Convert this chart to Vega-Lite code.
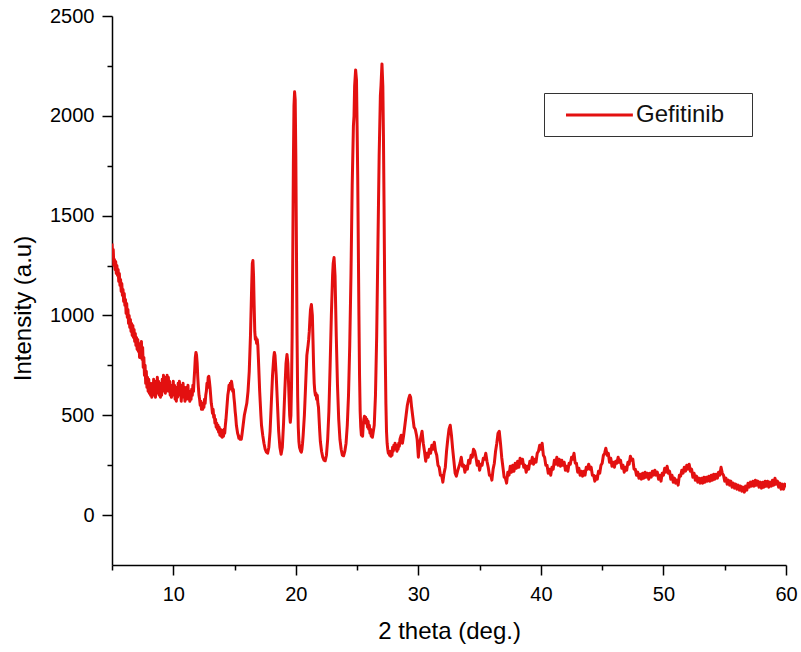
{
  "$schema": "https://vega.github.io/schema/vega-lite/v6.json",
  "width": 674,
  "height": 549,
  "autosize": "none",
  "padding": {"left": 112, "top": 16, "right": 15, "bottom": 87},
  "background": "white",
  "config": {
    "view": {"stroke": null},
    "font": "Liberation Sans",
    "axis": {"domainColor": "#000", "domainWidth": 1.5, "tickColor": "#000", "tickWidth": 1.5, "grid": false, "labelFont": "Liberation Sans", "labelFontSize": 20, "labelColor": "#000", "titleFont": "Liberation Sans", "titleFontSize": 24, "titleFontWeight": "normal", "titleColor": "#000"}
  },
  "data": {"values": [
{"t":5.00,"i":1360},{"t":5.05,"i":1300},{"t":5.10,"i":1330},{"t":5.15,"i":1250},{"t":5.20,"i":1280},{"t":5.25,"i":1230},{"t":5.30,"i":1270},{"t":5.35,"i":1210},{"t":5.40,"i":1250},{"t":5.45,"i":1200},{"t":5.50,"i":1230},{"t":5.55,"i":1170},{"t":5.60,"i":1210},{"t":5.65,"i":1150},{"t":5.70,"i":1180},{"t":5.75,"i":1120},{"t":5.80,"i":1160},{"t":5.85,"i":1100},{"t":5.90,"i":1130},{"t":5.95,"i":1070},{"t":6.00,"i":1110},{"t":6.05,"i":1050},{"t":6.10,"i":1080},{"t":6.15,"i":1010},{"t":6.20,"i":1060},{"t":6.25,"i":990},{"t":6.30,"i":1030},{"t":6.35,"i":960},{"t":6.40,"i":1000},{"t":6.45,"i":940},{"t":6.50,"i":980},{"t":6.55,"i":920},{"t":6.60,"i":960},{"t":6.65,"i":900},{"t":6.70,"i":950},{"t":6.75,"i":890},{"t":6.80,"i":930},{"t":6.85,"i":870},{"t":6.90,"i":910},{"t":6.95,"i":850},{"t":7.00,"i":890},{"t":7.05,"i":830},{"t":7.10,"i":880},{"t":7.15,"i":820},{"t":7.20,"i":860},{"t":7.25,"i":790},{"t":7.30,"i":850},{"t":7.35,"i":800},{"t":7.40,"i":870},{"t":7.45,"i":780},{"t":7.50,"i":840},{"t":7.55,"i":740},{"t":7.60,"i":790},{"t":7.65,"i":700},{"t":7.70,"i":750},{"t":7.75,"i":660},{"t":7.80,"i":720},{"t":7.85,"i":640},{"t":7.90,"i":690},{"t":7.95,"i":620},{"t":8.00,"i":680},{"t":8.05,"i":610},{"t":8.10,"i":660},
{"t":8.15,"i":600},{"t":8.20,"i":650},{"t":8.25,"i":590},{"t":8.30,"i":660},{"t":8.35,"i":610},{"t":8.40,"i":680},{"t":8.45,"i":600},{"t":8.50,"i":650},{"t":8.55,"i":590},{"t":8.60,"i":670},{"t":8.65,"i":610},{"t":8.70,"i":690},{"t":8.75,"i":620},{"t":8.80,"i":670},{"t":8.85,"i":600},{"t":8.90,"i":660},{"t":8.95,"i":590},{"t":9.00,"i":640},{"t":9.05,"i":600},{"t":9.10,"i":680},{"t":9.15,"i":620},{"t":9.20,"i":700},{"t":9.25,"i":630},{"t":9.30,"i":690},{"t":9.35,"i":610},{"t":9.40,"i":670},{"t":9.45,"i":620},{"t":9.50,"i":700},{"t":9.55,"i":640},{"t":9.60,"i":690},{"t":9.65,"i":620},{"t":9.70,"i":670},{"t":9.75,"i":600},{"t":9.80,"i":650},{"t":9.85,"i":590},{"t":9.90,"i":640},{"t":9.95,"i":610},{"t":10.00,"i":670},{"t":10.05,"i":600},{"t":10.10,"i":650},{"t":10.15,"i":580},{"t":10.20,"i":630},{"t":10.25,"i":570},{"t":10.30,"i":640},{"t":10.35,"i":590},{"t":10.40,"i":660},{"t":10.45,"i":600},{"t":10.50,"i":670},{"t":10.55,"i":610},{"t":10.60,"i":650},{"t":10.65,"i":570},{"t":10.70,"i":620},{"t":10.75,"i":590},{"t":10.80,"i":660},{"t":10.85,"i":600},{"t":10.90,"i":640},{"t":10.95,"i":570},{"t":11.00,"i":620},{"t":11.05,"i":580},{"t":11.10,"i":640},{"t":11.15,"i":590},{"t":11.20,"i":650},{"t":11.25,"i":580},{"t":11.30,"i":620},{"t":11.35,"i":570},{"t":11.40,"i":610},{"t":11.45,"i":580},{"t":11.50,"i":630},{"t":11.55,"i":600},{"t":11.60,"i":650},{"t":11.65,"i":620},
{"t":11.70,"i":680},{"t":11.75,"i":730},{"t":11.80,"i":790},{"t":11.85,"i":815},{"t":11.90,"i":800},{"t":11.95,"i":760},{"t":12.00,"i":690},{"t":12.05,"i":640},{"t":12.10,"i":600},{"t":12.15,"i":580},{"t":12.20,"i":550},{"t":12.25,"i":570},{"t":12.30,"i":530},{"t":12.35,"i":550},{"t":12.40,"i":530},{"t":12.45,"i":560},{"t":12.50,"i":540},{"t":12.55,"i":580},{"t":12.60,"i":560},{"t":12.65,"i":600},{"t":12.70,"i":620},{"t":12.75,"i":660},{"t":12.80,"i":640},{"t":12.85,"i":690},{"t":12.90,"i":695},{"t":12.95,"i":670},{"t":13.00,"i":640},{"t":13.05,"i":600},{"t":13.10,"i":560},{"t":13.15,"i":540},{"t":13.20,"i":510},{"t":13.25,"i":530},{"t":13.30,"i":490},{"t":13.35,"i":500},{"t":13.40,"i":460},{"t":13.45,"i":480},{"t":13.50,"i":440},{"t":13.55,"i":460},{"t":13.60,"i":430},{"t":13.65,"i":450},{"t":13.70,"i":415},{"t":13.75,"i":440},{"t":13.80,"i":400},{"t":13.85,"i":430},{"t":13.90,"i":395},{"t":13.95,"i":420},{"t":14.00,"i":390},{"t":14.05,"i":425},{"t":14.10,"i":395},{"t":14.15,"i":430},{"t":14.20,"i":410},{"t":14.25,"i":450},{"t":14.30,"i":480},{"t":14.35,"i":520},{"t":14.40,"i":560},{"t":14.45,"i":600},{"t":14.50,"i":620},{"t":14.55,"i":650},{"t":14.60,"i":630},{"t":14.65,"i":660},{"t":14.70,"i":640},{"t":14.75,"i":670},{"t":14.80,"i":650},{"t":14.85,"i":620},{"t":14.90,"i":630},{"t":14.95,"i":590},{"t":15.00,"i":560},{"t":15.05,"i":520},{"t":15.10,"i":490},{"t":15.15,"i":450},{"t":15.20,"i":430},{"t":15.25,"i":410},{"t":15.30,"i":400},{"t":15.35,"i":385},{"t":15.40,"i":395},{"t":15.45,"i":380},{"t":15.50,"i":385},{"t":15.55,"i":380},{"t":15.60,"i":400},{"t":15.70,"i":450},{"t":15.80,"i":500},{"t":15.90,"i":530},{"t":16.00,"i":560},{"t":16.10,"i":620},{"t":16.20,"i":720},{"t":16.30,"i":900},{"t":16.40,"i":1150},{"t":16.45,"i":1260},{"t":16.50,"i":1275},{"t":16.55,"i":1200},{"t":16.60,"i":1050},{"t":16.65,"i":920},{"t":16.70,"i":880},{"t":16.75,"i":890},{"t":16.80,"i":860},{"t":16.85,"i":880},{"t":16.90,"i":850},{"t":16.95,"i":780},{"t":17.00,"i":700},{"t":17.05,"i":620},{"t":17.10,"i":560},{"t":17.15,"i":500},{"t":17.20,"i":450},{"t":17.30,"i":400},{"t":17.40,"i":360},{"t":17.50,"i":330},{"t":17.60,"i":315},{"t":17.70,"i":310},{"t":17.80,"i":340},{"t":17.90,"i":420},{"t":18.00,"i":560},{"t":18.10,"i":700},{"t":18.20,"i":790},{"t":18.25,"i":815},{"t":18.30,"i":800},{"t":18.40,"i":700},{"t":18.50,"i":560},{"t":18.60,"i":420},{"t":18.70,"i":340},{"t":18.80,"i":305},{"t":18.90,"i":340},{"t":19.00,"i":460},{"t":19.10,"i":620},{"t":19.20,"i":760},{"t":19.28,"i":805},{"t":19.35,"i":760},{"t":19.42,"i":640},{"t":19.50,"i":500},{"t":19.55,"i":465},
{"t":19.60,"i":500},{"t":19.65,"i":650},{"t":19.70,"i":900},{"t":19.75,"i":1300},{"t":19.80,"i":1750},{"t":19.85,"i":2050},{"t":19.90,"i":2120},{"t":19.95,"i":2080},{"t":20.00,"i":1800},{"t":20.05,"i":1350},{"t":20.10,"i":900},{"t":20.15,"i":600},{"t":20.20,"i":440},{"t":20.25,"i":370},{"t":20.30,"i":340},{"t":20.35,"i":330},{"t":20.40,"i":320},{"t":20.45,"i":315},{"t":20.50,"i":330},{"t":20.55,"i":360},{"t":20.60,"i":400},{"t":20.70,"i":500},{"t":20.80,"i":650},{"t":20.90,"i":800},{"t":21.00,"i":850},{"t":21.05,"i":880},{"t":21.10,"i":920},{"t":21.15,"i":980},{"t":21.20,"i":1030},{"t":21.27,"i":1055},{"t":21.35,"i":1000},{"t":21.40,"i":880},{"t":21.45,"i":750},{"t":21.50,"i":660},{"t":21.55,"i":620},{"t":21.60,"i":600},{"t":21.65,"i":610},{"t":21.70,"i":580},{"t":21.75,"i":600},{"t":21.80,"i":560},{"t":21.85,"i":540},{"t":21.90,"i":480},{"t":21.95,"i":420},{"t":22.00,"i":370},{"t":22.10,"i":320},{"t":22.20,"i":290},{"t":22.30,"i":275},{"t":22.40,"i":272},{"t":22.50,"i":300},{"t":22.60,"i":380},{"t":22.70,"i":520},{"t":22.80,"i":750},{"t":22.90,"i":1000},{"t":23.00,"i":1200},{"t":23.05,"i":1260},{"t":23.12,"i":1290},{"t":23.20,"i":1200},{"t":23.25,"i":1050},{"t":23.30,"i":900},{"t":23.40,"i":650},{"t":23.50,"i":480},{"t":23.60,"i":380},{"t":23.70,"i":330},{"t":23.80,"i":300},{"t":23.90,"i":297},{"t":24.00,"i":320},{"t":24.10,"i":360},{"t":24.20,"i":450},{"t":24.30,"i":600},{"t":24.40,"i":850},{"t":24.50,"i":1200},{"t":24.60,"i":1650},{"t":24.70,"i":1950},{"t":24.75,"i":2000},{"t":24.80,"i":2150},{"t":24.88,"i":2230},{"t":24.95,"i":2180},{"t":25.00,"i":1950},{"t":25.05,"i":1700},{"t":25.10,"i":1350},{"t":25.15,"i":1000},{"t":25.20,"i":700},{"t":25.25,"i":520},{"t":25.30,"i":440},{"t":25.35,"i":400},{"t":25.40,"i":420},{"t":25.45,"i":395},{"t":25.50,"i":450},{"t":25.55,"i":480},{"t":25.60,"i":495},{"t":25.65,"i":470},{"t":25.70,"i":490},{"t":25.75,"i":460},{"t":25.80,"i":480},{"t":25.85,"i":440},{"t":25.90,"i":470},{"t":25.95,"i":430},{"t":26.00,"i":450},{"t":26.05,"i":410},{"t":26.10,"i":430},{"t":26.15,"i":395},{"t":26.20,"i":420},{"t":26.25,"i":390},{"t":26.30,"i":410},{"t":26.40,"i":450},{"t":26.50,"i":600},{"t":26.60,"i":900},{"t":26.70,"i":1350},{"t":26.80,"i":1800},{"t":26.90,"i":2100},{"t":26.95,"i":2150},{"t":27.03,"i":2260},{"t":27.10,"i":2150},{"t":27.15,"i":1900},{"t":27.20,"i":1550},{"t":27.25,"i":1150},{"t":27.30,"i":800},{"t":27.35,"i":560},{"t":27.40,"i":420},{"t":27.45,"i":360},{"t":27.50,"i":330},{"t":27.55,"i":310},{"t":27.60,"i":320},{"t":27.65,"i":300},{"t":27.70,"i":320},{"t":27.75,"i":295},{"t":27.80,"i":315},{"t":27.85,"i":300},{"t":27.90,"i":340},{"t":27.95,"i":320},{"t":28.00,"i":350},{"t":28.05,"i":330},{"t":28.10,"i":360},{"t":28.15,"i":335},{"t":28.20,"i":350},{"t":28.25,"i":320},{"t":28.30,"i":345},{"t":28.35,"i":330},{"t":28.40,"i":360},{"t":28.45,"i":345},{"t":28.50,"i":380},{"t":28.60,"i":400},{"t":28.70,"i":360},{"t":28.80,"i":400},{"t":28.90,"i":450},{"t":29.00,"i":500},{"t":29.10,"i":550},{"t":29.20,"i":580},{"t":29.30,"i":600},{"t":29.37,"i":590},{"t":29.45,"i":540},{"t":29.55,"i":490},{"t":29.65,"i":440},{"t":29.75,"i":430},{"t":29.85,"i":400},
{"t":29.9,"i":380},{"t":30.0,"i":290},{"t":30.1,"i":360},{"t":30.2,"i":390},{"t":30.3,"i":420},{"t":30.4,"i":360},{"t":30.5,"i":320},{"t":30.6,"i":270},{"t":30.7,"i":310},{"t":30.8,"i":290},{"t":30.9,"i":330},{"t":31.0,"i":310},{"t":31.1,"i":350},{"t":31.2,"i":330},{"t":31.3,"i":365},{"t":31.4,"i":320},{"t":31.5,"i":300},{"t":31.6,"i":250},{"t":31.7,"i":240},{"t":31.8,"i":200},{"t":31.9,"i":200},{"t":32.0,"i":165},{"t":32.1,"i":210},{"t":32.2,"i":240},{"t":32.3,"i":320},{"t":32.4,"i":380},{"t":32.5,"i":430},{"t":32.6,"i":450},{"t":32.7,"i":400},{"t":32.8,"i":330},{"t":32.9,"i":270},{"t":33.0,"i":210},{"t":33.1,"i":195},{"t":33.2,"i":220},{"t":33.3,"i":240},{"t":33.4,"i":260},{"t":33.5,"i":290},{"t":33.6,"i":245},{"t":33.7,"i":250},{"t":33.8,"i":215},{"t":33.9,"i":245},{"t":34.0,"i":230},{"t":34.1,"i":275},{"t":34.2,"i":260},{"t":34.3,"i":300},{"t":34.4,"i":290},{"t":34.5,"i":330},{"t":34.6,"i":320},{"t":34.7,"i":290},{"t":34.8,"i":250},{"t":34.9,"i":270},{"t":35.0,"i":225},{"t":35.1,"i":255},{"t":35.2,"i":250},{"t":35.3,"i":285},{"t":35.4,"i":280},{"t":35.5,"i":310},{"t":35.6,"i":270},{"t":35.7,"i":240},{"t":35.8,"i":200},{"t":35.9,"i":200},{"t":36.0,"i":175},{"t":36.1,"i":230},{"t":36.2,"i":260},{"t":36.3,"i":320},{"t":36.4,"i":360},{"t":36.5,"i":410},{"t":36.6,"i":420},{"t":36.7,"i":360},{"t":36.8,"i":290},{"t":36.9,"i":240},{"t":37.0,"i":190},{"t":37.1,"i":185},{"t":37.2,"i":160},{"t":37.3,"i":215},{"t":37.4,"i":200},{"t":37.5,"i":245},{"t":37.6,"i":215},{"t":37.7,"i":250},{"t":37.8,"i":220},{"t":37.9,"i":260},{"t":38.0,"i":235},{"t":38.1,"i":270},{"t":38.2,"i":240},{"t":38.3,"i":285},{"t":38.4,"i":260},{"t":38.5,"i":280},{"t":38.6,"i":240},{"t":38.7,"i":250},{"t":38.8,"i":215},{"t":38.9,"i":245},{"t":39.0,"i":230},{"t":39.1,"i":270},{"t":39.2,"i":260},{"t":39.3,"i":290},{"t":39.4,"i":255},{"t":39.5,"i":280},{"t":39.6,"i":265},{"t":39.7,"i":310},{"t":39.8,"i":320},{"t":39.9,"i":350},{"t":40.0,"i":330},{"t":40.1,"i":360},{"t":40.2,"i":300},{"t":40.3,"i":290},{"t":40.4,"i":250},{"t":40.5,"i":250},{"t":40.6,"i":210},{"t":40.7,"i":230},{"t":40.8,"i":200},{"t":40.9,"i":240},{"t":41.0,"i":230},{"t":41.1,"i":275},{"t":41.2,"i":255},{"t":41.3,"i":290},{"t":41.4,"i":250},{"t":41.5,"i":280},{"t":41.6,"i":245},{"t":41.7,"i":275},{"t":41.8,"i":250},{"t":41.9,"i":265},{"t":42.0,"i":225},{"t":42.1,"i":245},{"t":42.2,"i":220},{"t":42.3,"i":260},{"t":42.4,"i":255},{"t":42.5,"i":290},{"t":42.6,"i":280},{"t":42.7,"i":310},{"t":42.8,"i":260},{"t":42.9,"i":260},{"t":43.0,"i":215},{"t":43.1,"i":235},{"t":43.2,"i":200},{"t":43.3,"i":220},{"t":43.4,"i":195},{"t":43.5,"i":220},{"t":43.6,"i":200},{"t":43.7,"i":240},{"t":43.8,"i":230},{"t":43.9,"i":255},{"t":44.0,"i":230},{"t":44.1,"i":240},{"t":44.2,"i":200},{"t":44.3,"i":200},{"t":44.4,"i":170},{"t":44.5,"i":195},{"t":44.6,"i":180},{"t":44.7,"i":220},{"t":44.8,"i":210},{"t":44.9,"i":250},{"t":45.0,"i":260},{"t":45.1,"i":300},{"t":45.2,"i":310},{"t":45.3,"i":335},{"t":45.4,"i":300},{"t":45.5,"i":310},{"t":45.6,"i":265},{"t":45.7,"i":285},{"t":45.8,"i":245},{"t":45.9,"i":265},{"t":46.0,"i":240},{"t":46.1,"i":270},{"t":46.2,"i":260},{"t":46.3,"i":290},{"t":46.4,"i":265},{"t":46.5,"i":275},{"t":46.6,"i":235},{"t":46.7,"i":250},{"t":46.8,"i":215},{"t":46.9,"i":240},{"t":47.0,"i":225},{"t":47.1,"i":265},{"t":47.2,"i":255},{"t":47.3,"i":295},{"t":47.4,"i":275},{"t":47.5,"i":280},{"t":47.6,"i":230},{"t":47.7,"i":230},{"t":47.8,"i":200},{"t":47.9,"i":215},{"t":48.0,"i":185},{"t":48.1,"i":205},{"t":48.2,"i":180},{"t":48.3,"i":210},{"t":48.4,"i":185},{"t":48.5,"i":215},{"t":48.6,"i":190},{"t":48.7,"i":210},{"t":48.8,"i":180},{"t":48.9,"i":210},{"t":49.0,"i":190},{"t":49.1,"i":220},{"t":49.2,"i":200},{"t":49.3,"i":225},{"t":49.4,"i":200},{"t":49.5,"i":215},{"t":49.6,"i":180},{"t":49.7,"i":200},{"t":49.8,"i":170},{"t":49.9,"i":210},{"t":50.0,"i":200},{"t":50.1,"i":235},{"t":50.2,"i":215},{"t":50.3,"i":245},{"t":50.4,"i":210},{"t":50.5,"i":220},{"t":50.6,"i":180},{"t":50.7,"i":200},{"t":50.8,"i":165},{"t":50.9,"i":185},{"t":51.0,"i":160},{"t":51.1,"i":175},{"t":51.2,"i":150},{"t":51.3,"i":200},{"t":51.4,"i":195},{"t":51.5,"i":225},{"t":51.6,"i":210},{"t":51.7,"i":240},{"t":51.8,"i":220},{"t":51.9,"i":250},{"t":52.0,"i":230},{"t":52.1,"i":255},{"t":52.2,"i":220},{"t":52.3,"i":230},{"t":52.4,"i":190},{"t":52.5,"i":210},{"t":52.6,"i":175},{"t":52.7,"i":195},{"t":52.8,"i":165},{"t":52.9,"i":185},{"t":53.0,"i":160},{"t":53.1,"i":185},{"t":53.2,"i":160},{"t":53.3,"i":190},{"t":53.4,"i":165},{"t":53.5,"i":190},{"t":53.6,"i":170},{"t":53.7,"i":195},{"t":53.8,"i":170},{"t":53.9,"i":200},{"t":54.0,"i":175},{"t":54.1,"i":205},{"t":54.2,"i":180},{"t":54.3,"i":205},{"t":54.4,"i":185},{"t":54.5,"i":215},{"t":54.6,"i":200},{"t":54.7,"i":240},{"t":54.8,"i":210},{"t":54.9,"i":200},{"t":55.0,"i":170},{"t":55.1,"i":185},{"t":55.2,"i":155},{"t":55.3,"i":175},{"t":55.4,"i":150},{"t":55.5,"i":170},{"t":55.6,"i":140},{"t":55.7,"i":160},{"t":55.8,"i":135},{"t":55.9,"i":155},{"t":56.0,"i":130},{"t":56.1,"i":150},{"t":56.2,"i":125},{"t":56.3,"i":145},{"t":56.4,"i":120},{"t":56.5,"i":140},{"t":56.6,"i":115},{"t":56.7,"i":145},{"t":56.8,"i":125},{"t":56.9,"i":160},{"t":57.0,"i":140},{"t":57.1,"i":165},{"t":57.2,"i":145},{"t":57.3,"i":170},{"t":57.4,"i":145},{"t":57.5,"i":175},{"t":57.6,"i":150},{"t":57.7,"i":170},{"t":57.8,"i":140},{"t":57.9,"i":165},{"t":58.0,"i":135},{"t":58.1,"i":165},{"t":58.2,"i":140},{"t":58.3,"i":170},{"t":58.4,"i":145},{"t":58.5,"i":170},{"t":58.6,"i":140},{"t":58.7,"i":165},{"t":58.8,"i":145},{"t":58.9,"i":175},{"t":59.0,"i":150},{"t":59.1,"i":185},{"t":59.2,"i":155},{"t":59.3,"i":170},{"t":59.4,"i":140},{"t":59.5,"i":160},{"t":59.6,"i":130},{"t":59.7,"i":155},{"t":59.8,"i":130},{"t":59.9,"i":155},{"t":60.0,"i":140}
  ]},
  "mark": {"type": "line", "strokeWidth": 3, "clip": true, "strokeJoin": "round"},
  "encoding": {
    "x": {
      "field": "t", "type": "quantitative",
      "scale": {"domain": [5, 60], "nice": false, "zero": false},
      "axis": {
        "title": "2 theta (deg.)",
        "values": [5, 10, 15, 20, 25, 30, 35, 40, 45, 50, 55, 60],
        "labelExpr": "datum.value % 10 === 0 ? datum.label : ''",
        "tickSize": {"condition": {"test": "datum.value % 10 === 0", "value": 10}, "value": 5},
        "labelPadding": 9,
        "labelFlush": false,
        "titleBaseline": "alphabetic",
        "titleY": 73
      }
    },
    "y": {
      "field": "i", "type": "quantitative",
      "scale": {"domain": [-250, 2500], "nice": false, "zero": false},
      "axis": {
        "title": "Intensity (a.u)",
        "values": [0, 250, 500, 750, 1000, 1250, 1500, 1750, 2000, 2250, 2500],
        "format": "d",
        "labelExpr": "datum.value % 500 === 0 ? datum.label : ''",
        "tickSize": {"condition": {"test": "datum.value % 500 === 0", "value": 10}, "value": 5},
        "labelPadding": 8,
        "labelFlush": false,
        "titleBaseline": "alphabetic",
        "titleX": -82,
        "titleY": 292,
        "titleAngle": -90
      }
    },
    "color": {
      "datum": "Gefitinib",
      "type": "nominal",
      "scale": {"range": ["#e31010"]},
      "legend": {
        "title": null,
        "orient": "none",
        "legendX": 432,
        "legendY": 77,
        "padding": 9,
        "strokeColor": "#333",
        "symbolType": "M0,0H6",
        "symbolSize": 497,
        "symbolStrokeWidth": 3,
        "labelFont": "Liberation Sans",
        "labelFontSize": 24,
        "labelColor": "#111",
        "labelOffset": 57,
        "labelExpr": "datum.label + '\u2800'"
      }
    }
  }
}
